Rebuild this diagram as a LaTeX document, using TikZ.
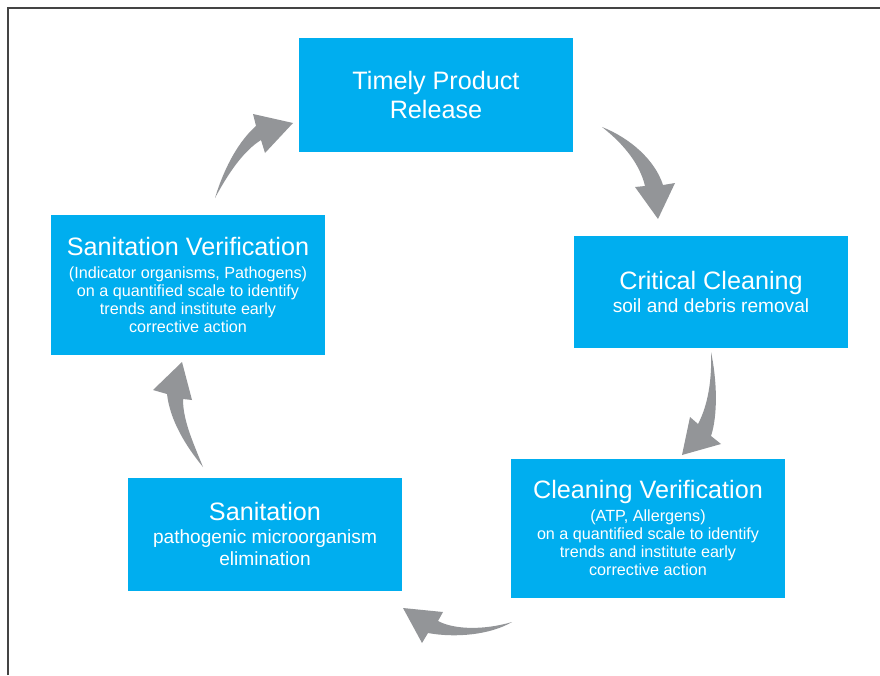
\documentclass[tikz,border=0pt]{standalone}
\usepackage{fontspec}
\setmainfont{Liberation Sans}
\usepackage{tikz}
\usetikzlibrary{positioning}
\usepackage{xcolor}
\definecolor{cyccyan}{RGB}{0,174,239}
\definecolor{cycgray}{RGB}{147,149,152}
\definecolor{framegray}{RGB}{68,68,68}
\newcommand{\ttlfont}{\fontsize{21.5}{25.5}\selectfont}
\newcommand{\subfont}{\fontsize{16.3}{19}\selectfont}
\newcommand{\smlfont}{\fontsize{13.8}{15.6}\selectfont}

\begin{document}
\begin{tikzpicture}[x=0.03cm, y=-0.03cm]

\tikzstyle{basenode}=[inner sep=0pt, align=center, text=white, fill=cyccyan, minimum width=8.22cm];
\tikzstyle{stage}=[basenode, minimum height=3.39cm];
\tikzstyle{stagetall}=[basenode, minimum height=4.17cm];
\tikzstyle{cycarr}=[fill=cycgray, draw=none];
\tikzstyle{frame}=[line width=1.4pt, framegray];

\useasboundingbox (0,0) rectangle (880,675);
\draw[ frame ] (8,675) -- (8,8) -- (880,8);

\node[ stage, font=\ttlfont ] (release) at (436,95) {Timely Product\\Release};
\node[ stage, font=\subfont, minimum height=3.36cm ] (clean) at (711,292) {{\ttlfont Critical Cleaning}\\[1pt]soil and debris removal};
\node[ stagetall, font=\smlfont ] (cleanver) at (648,528) {{\ttlfont Cleaning Verification}\\[4pt](ATP, Allergens)\\on a quantified scale to identify\\trends and institute early\\corrective action};
\node[ stage, font=\subfont ] (sanit) at (265,534) {{\ttlfont Sanitation}\\pathogenic microorganism\\elimination};
\node[ stagetall, font=\smlfont ] (sanitver) at (188,285) {{\ttlfont Sanitation Verification}\\[4pt](Indicator organisms, Pathogens)\\on a quantified scale to identify\\trends and institute early\\corrective action};

% release -> clean
\fill[ cycarr ] (602,127) .. controls (630,138) and (655,160) .. (663,185) -- (675,183) -- (658,219) -- (635,187) -- (645,186) .. controls (640,165) and (625,145) .. (602,127) -- cycle;
% clean -> cleanver
\fill[ cycarr ] (711,352) .. controls (717,380) and (718,415) .. (711,436) -- (721,444) -- (682,455) -- (690,417) -- (698,424) .. controls (708,405) and (712,380) .. (711,352) -- cycle;
% cleanver -> sanit
\fill[ cycarr ] (512,622) .. controls (485,630) and (455,630) .. (438,621) -- (443,612) -- (403,608) -- (422,643) -- (428,633) .. controls (455,638) and (490,635) .. (512,622) -- cycle;
% sanit -> sanitver
\fill[ cycarr ] (203,467) .. controls (192,440) and (183,420) .. (183,399) -- (192,400) -- (182,362) -- (153,390) -- (167,394) .. controls (170,420) and (185,445) .. (203,467) -- cycle;
% sanitver -> release
\fill[ cycarr ] (215,198) .. controls (225,165) and (240,140) .. (256,126) -- (253,114) -- (293,123) -- (265,153) -- (261,140) .. controls (245,150) and (230,170) .. (215,198) -- cycle;

\end{tikzpicture}
\end{document}
